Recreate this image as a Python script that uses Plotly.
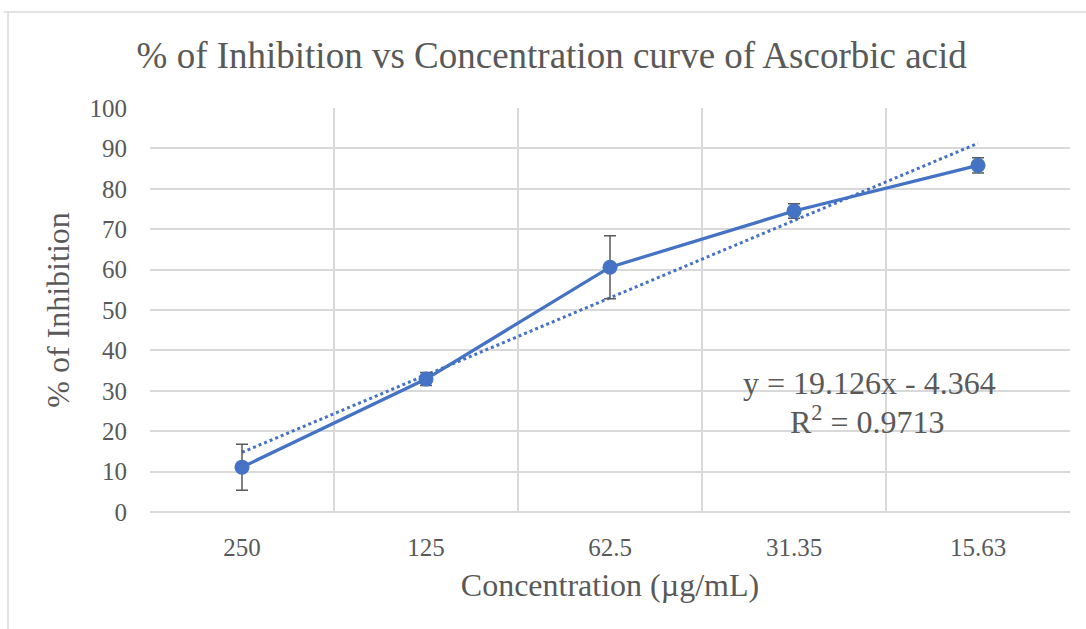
import plotly.graph_objects as go

categories = ["250", "125", "62.5", "31.35", "15.63"]
inhibition = [11.1, 32.9, 60.6, 74.5, 85.8]
error = [5.7, 1.6, 7.8, 1.8, 1.9]
slope = 19.126
intercept = -4.364
r_squared = 0.9713

x_pos = list(range(1, len(categories) + 1))
trend = [slope * x + intercept for x in x_pos]

BLUE = "#4472C4"
GREY_TEXT = "#595959"
GRID = "#D9D9D9"
FONT = "Liberation Serif"

fig = go.Figure()
fig.add_trace(go.Scatter(
    x=x_pos, y=trend, mode="lines",
    line=dict(color=BLUE, width=3, dash="dot"),
    hoverinfo="skip", showlegend=False,
))
fig.add_trace(go.Scatter(
    x=x_pos, y=inhibition, mode="lines+markers",
    line=dict(color=BLUE, width=3.25),
    marker=dict(color=BLUE, size=15),
    error_y=dict(type="data", array=error, visible=True,
                 color=GREY_TEXT, thickness=1.5, width=6),
    showlegend=False,
))

fig.update_layout(
    width=1086, height=629,
    margin=dict(l=150, r=16, t=108, b=117),
    paper_bgcolor="white", plot_bgcolor="white",
    font=dict(family=FONT, color=GREY_TEXT),
    title=dict(text="% of Inhibition vs Concentration curve of Ascorbic acid",
               x=0.508, xanchor="center", y=0.9126, yanchor="middle",
               font=dict(family=FONT, size=37, color=GREY_TEXT)),
    xaxis=dict(
        range=[0.5, 5.5], tickmode="array", tickvals=x_pos, ticktext=categories,
        showgrid=False, zeroline=False, showline=False, ticks="",
        ticklabelstandoff=18,
        tickfont=dict(size=25, color=GREY_TEXT),
        minor=dict(tickmode="array", tickvals=[0.5, 1.5, 2.5, 3.5, 4.5, 5.5],
                   showgrid=True, gridcolor=GRID, gridwidth=1.5),
        title=dict(text="Concentration (µg/mL)", standoff=13,
                   font=dict(size=32, color=GREY_TEXT)),
    ),
    yaxis=dict(
        range=[0, 100], tickmode="linear", tick0=0, dtick=10,
        showgrid=True, gridcolor=GRID, gridwidth=1.5,
        zeroline=True, zerolinecolor=GRID, zerolinewidth=1.5,
        showline=False, ticks="", ticklabelstandoff=22,
        tickfont=dict(size=25, color=GREY_TEXT),
        title=dict(text="% of Inhibition", standoff=10,
                   font=dict(size=32, color=GREY_TEXT)),
    ),
    annotations=[
        dict(xref="paper", yref="paper", x=0.7826, y=0.319,
             text=f"y = {slope}x - {abs(intercept)}",
             showarrow=False, xanchor="center", yanchor="middle",
             font=dict(family=FONT, size=32, color=GREY_TEXT)),
        dict(xref="paper", yref="paper", x=0.7804, y=0.228,
             text=f"R<sup>2</sup> = {r_squared}",
             showarrow=False, xanchor="center", yanchor="middle",
             font=dict(family=FONT, size=32, color=GREY_TEXT)),
    ],
    shapes=[
        dict(type="line", xref="paper", yref="paper",
             x0=-0.159, x1=1.1, y0=1.2376, y1=1.2376,
             line=dict(color="#D9D9D9", width=1.5)),
        dict(type="line", xref="paper", yref="paper",
             x0=-0.1543, x1=-0.1543, y0=1.2376, y1=-0.35,
             line=dict(color="#D9D9D9", width=1.5)),
    ],
)

fig.write_html("out.html")
